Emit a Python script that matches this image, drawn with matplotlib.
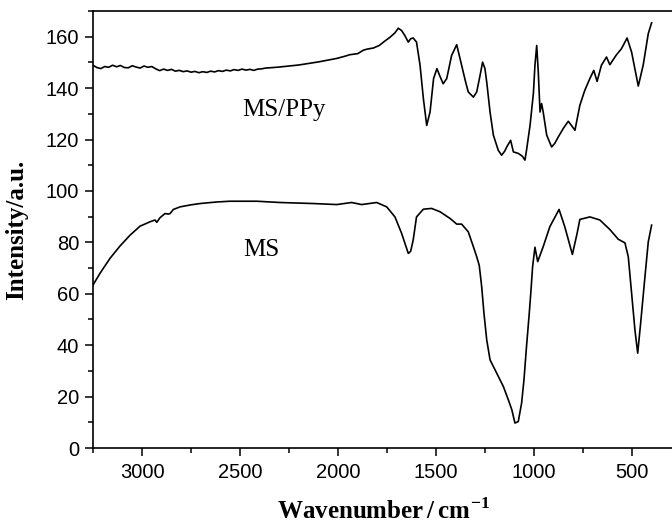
import numpy as np
import matplotlib
matplotlib.use("Agg")
import matplotlib.pyplot as plt
from matplotlib.ticker import MultipleLocator

# --------------------------------------------------------------------------
# Data
# --------------------------------------------------------------------------
wn_ppy = [3250, 3230, 3210, 3190, 3170, 3150, 3130, 3110, 3090, 3070, 3050,
          3030, 3010, 2990, 2970, 2950, 2930, 2910, 2890, 2870, 2850, 2830,
          2810, 2790, 2770, 2750, 2730, 2710, 2690, 2670, 2650, 2630, 2610,
          2590, 2570, 2550, 2530, 2510, 2490, 2470, 2450, 2430, 2410, 2390,
          2370, 2350, 2300, 2250, 2200, 2150, 2100, 2050, 2010, 1970, 1940,
          1900, 1870, 1850, 1820, 1790, 1760, 1735, 1710, 1693, 1676, 1660,
          1642, 1630, 1617, 1600, 1582, 1565, 1548, 1531, 1513, 1496, 1480,
          1464, 1446, 1421, 1395, 1370, 1350, 1336, 1310, 1293, 1276, 1263,
          1251, 1242, 1225, 1208, 1183, 1166, 1150, 1140, 1120, 1106, 1081,
          1060, 1047, 1039, 1021, 1004, 996, 987, 979, 970, 962, 954, 936,
          911, 895, 877, 850, 826, 810, 792, 767, 742, 716, 696, 679, 657,
          631, 614, 580, 555, 526, 503, 469, 444, 418, 401]
int_ppy = [148.9, 148.0, 147.6, 148.4, 148.1, 148.9, 148.3, 148.8, 148.0,
           147.9, 148.7, 148.2, 147.8, 148.6, 148.1, 148.4, 147.5, 146.8,
           147.4, 146.9, 147.3, 146.6, 146.9, 146.4, 146.7, 146.2, 146.5,
           146.0, 146.4, 146.1, 146.6, 146.3, 146.8, 146.5, 147.0, 146.7,
           147.2, 146.9, 147.4, 147.0, 147.3, 146.9, 147.4, 147.5, 147.8,
           147.9, 148.2, 148.6, 149.0, 149.6, 150.2, 150.9, 151.5, 152.3,
           153.0, 153.4, 154.8, 155.2, 155.6, 156.6, 158.4, 159.8, 161.5,
           163.3, 162.4, 160.5, 157.9, 159.2, 159.5, 157.9, 148.9, 135.9,
           125.5, 130.7, 143.7, 147.6, 144.5, 141.7, 143.7, 152.7, 156.9,
           148.9, 142.5, 138.5, 136.5, 138.5, 144.9, 150.1, 147.6, 142.4,
           130.7, 121.7, 115.8, 113.9, 115.5, 117.1, 119.7, 115.2, 114.6,
           113.5, 112.0, 115.8, 125.5, 137.9, 148.9, 156.6, 146.3, 130.7,
           134.0, 130.7, 121.7, 117.1, 118.5, 121.0, 124.5, 127.1, 125.5,
           123.6, 133.3, 139.1, 143.7, 146.9, 142.6, 148.9, 152.1, 149.1,
           153.0, 155.3, 159.5, 154.0, 140.8, 148.9, 161.2, 165.4]

wn_ms = [3250, 3214, 3163, 3112, 3061, 3010, 2959, 2934, 2925, 2908, 2883,
         2865, 2857, 2840, 2806, 2750, 2704, 2620, 2551, 2415, 2296, 2126,
         2007, 1931, 1880, 1803, 1752, 1710, 1676, 1642, 1630, 1617, 1600,
         1565, 1523, 1480, 1429, 1395, 1370, 1336, 1310, 1293, 1280, 1268,
         1256, 1242, 1225, 1191, 1157, 1132, 1114, 1098, 1081, 1064, 1052,
         1039, 1025, 1016, 1008, 996, 982, 954, 920, 873, 844, 805, 781, 767,
         716, 665, 614, 571, 537, 520, 503, 486, 472, 457, 435, 418, 401]
int_ms = [63.4, 68.0, 73.8, 78.6, 82.8, 86.3, 88.0, 88.7, 87.8, 89.6, 91.2,
          91.0, 91.2, 92.8, 93.8, 94.6, 95.1, 95.7, 96.0, 96.0, 95.5, 95.1,
          94.7, 95.5, 94.7, 95.5, 93.8, 89.9, 83.5, 75.7, 76.5, 80.9, 89.9,
          92.9, 93.2, 91.9, 89.3, 87.1, 87.1, 84.1, 78.3, 74.4, 71.0, 63.0,
          52.4, 42.1, 34.3, 29.1, 23.9, 18.8, 14.9, 9.7, 10.3, 17.5, 26.5,
          39.5, 52.4, 61.5, 70.5, 78.1, 72.5, 78.3, 86.1, 92.8, 86.1, 75.3,
          83.5, 88.9, 89.9, 88.7, 85.0, 81.2, 79.8, 74.4, 60.2, 45.9, 36.9,
          48.5, 66.6, 80.2, 86.7]

# --------------------------------------------------------------------------
# Plot
# --------------------------------------------------------------------------
plt.rcParams["mathtext.fontset"] = "custom"
plt.rcParams["mathtext.rm"] = "Liberation Serif:bold"
plt.rcParams["mathtext.bf"] = "Liberation Serif:bold"

fig = plt.figure(figsize=(6.72, 5.23), dpi=100)
ax = fig.add_axes([93/672, 1 - 448/523, 1 - 93/672, 437/523])

ax.plot(wn_ppy, int_ppy, color="black", linewidth=1.2)
ax.plot(wn_ms, int_ms, color="black", linewidth=1.2)

ax.set_xlim(3250, 297)
ax.set_ylim(0, 170)
ax.xaxis.set_major_locator(MultipleLocator(500))
ax.xaxis.set_minor_locator(MultipleLocator(250))
ax.yaxis.set_major_locator(MultipleLocator(20))
ax.yaxis.set_minor_locator(MultipleLocator(10))

for s in ["left", "bottom", "top"]:
    ax.spines[s].set_linewidth(1.2)
ax.spines["right"].set_visible(False)

ax.tick_params(which="major", direction="out", length=6, width=1.1,
               labelsize=14.5, pad=4)
ax.tick_params(which="minor", direction="out", length=3.5, width=1.1)
ax.tick_params(axis="x", which="major", pad=5)
for lbl in ax.get_xticklabels() + ax.get_yticklabels():
    lbl.set_family("Liberation Sans")

ax.text(2276, 131.4, "MS/PPy", family="Liberation Serif", fontsize=18,
        ha="center", va="center")
ax.text(2391, 76.9, "MS", family="Liberation Serif", fontsize=18,
        ha="center", va="center")

ax.set_ylabel("Intensity/a.u.", family="Liberation Serif", weight="bold",
              fontsize=18)
ax.set_xlabel(r"Wavenumber$\,$/$\,$cm$^{\mathrm{-1}}$",
              family="Liberation Serif", weight="bold", fontsize=18)
ax.yaxis.set_label_coords(-0.112, 0.5)
ax.xaxis.set_label_coords(0.502, -0.114)

plt.savefig("out.png", dpi=100)
